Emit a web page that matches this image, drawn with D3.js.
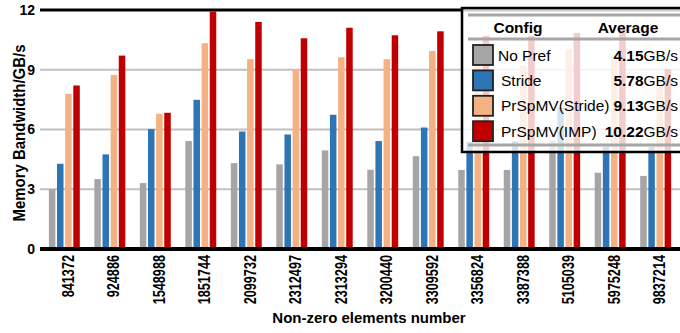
<!DOCTYPE html>
<html>
<head>
<meta charset="utf-8">
<script src="https://cdn.jsdelivr.net/npm/d3@7.9.0/dist/d3.min.js"></script>
<style>
  body { margin: 0; background: #fff; }
  svg { display: block; font-family: "Liberation Sans", Arial, sans-serif; }
</style>
</head>
<body>
<svg id="chart" width="680" height="333"></svg>
<script>
// matrix sizes (non-zero count) on the x axis
const categories = ['841372', '924886', '1548988', '1851744', '2099732', '2312497', '2313294',
  '3200440', '3309592', '3356824', '3387388', '5105039', '5975248', '9837214'];
const configs = ['No Pref', 'Stride', 'PrSpMV(Stride)', 'PrSpMV(IMP)'];
const colors = ['#a5a5a5', '#2e75b6', '#f4b183', '#c00000'];

// bandwidth in GB/s
const noPref = [3.0, 3.51, 3.31, 5.42, 4.31, 4.25, 4.95, 3.98, 4.66, 3.97, 3.97, 5.45, 3.83, 3.67];
const stride = [4.28, 4.75, 6.02, 7.49, 5.90, 5.75, 6.74, 5.42, 6.10, 5.39, 5.40, 7.10, 5.13, 5.13];
const prStride = [7.79, 8.74, 6.79, 10.33, 9.53, 9.03, 9.63, 9.53, 9.94, 9.3, 9.2, 10.05, 9.65, 8.3];
const prImp = [8.21, 9.71, 6.84, 11.92, 11.40, 10.58, 11.11, 10.73, 10.93, 10.7, 10.7, 10.85, 11.05, 9.03];
const averages = ['4.15', '5.78', '9.13', '10.22'];
const yTicks = [0, 3, 6, 9, 12];

const series = [noPref, stride, prStride, prImp];

const svg = d3.select('#chart');
const m = { left: 40, right: 680, top: 10, bottom: 249 };

const x = d3.scaleBand().domain(categories).range([m.left, m.right]).paddingInner(0.32).paddingOuter(0.195);
const xi = d3.scaleBand().domain(configs).range([0, x.bandwidth()]).paddingInner(0.2);
const y = d3.scaleLinear().domain([0, 12]).range([m.bottom, m.top]);

// grid lines
svg.append('g').selectAll('line')
  .data(yTicks.filter(t => t > 0 && t < 12))
  .join('line')
  .attr('x1', m.left).attr('x2', m.right)
  .attr('y1', d => y(d)).attr('y2', d => y(d))
  .attr('stroke', '#c0c0c0').attr('stroke-width', 2);

// bars
const groups = svg.append('g').selectAll('g')
  .data(categories)
  .join('g')
  .attr('transform', d => `translate(${x(d)},0)`);

groups.selectAll('rect')
  .data((d, i) => series.map((s, k) => ({ key: configs[k], value: s[i], k })))
  .join('rect')
  .attr('x', d => xi(d.key))
  .attr('width', xi.bandwidth())
  .attr('y', d => y(d.value))
  .attr('height', d => y(0) - y(d.value))
  .attr('fill', d => colors[d.k]);

// top frame line and bottom axis line
svg.append('line').attr('x1', m.left).attr('x2', m.right).attr('y1', m.top).attr('y2', m.top)
  .attr('stroke', '#000').attr('stroke-width', 3);
svg.append('line').attr('x1', m.left).attr('x2', m.right).attr('y1', m.bottom).attr('y2', m.bottom)
  .attr('stroke', '#000').attr('stroke-width', 4);

// y tick labels
svg.append('g').selectAll('text')
  .data(yTicks)
  .join('text')
  .attr('x', 35).attr('y', d => y(d))
  .attr('dy', '0.35em')
  .attr('text-anchor', 'end')
  .attr('font-size', 14).attr('font-weight', 'bold')
  .text(d => d);

// x tick labels (rotated, condensed)
svg.append('g').selectAll('text')
  .data(categories)
  .join('text')
  .attr('transform', d => `translate(${x(d) + x.bandwidth() / 2 + 4},255) rotate(-90)`)
  .attr('dy', '0.35em')
  .attr('text-anchor', 'end')
  .attr('font-size', 16).attr('font-weight', 'bold')
  .attr('textLength', d => d.length * 7.05)
  .attr('lengthAdjust', 'spacingAndGlyphs')
  .text(d => d);

// axis titles
svg.append('text')
  .attr('transform', 'translate(25,133) rotate(-90)')
  .attr('text-anchor', 'middle')
  .attr('font-size', 16).attr('font-weight', 'bold')
  .attr('textLength', 177)
  .attr('lengthAdjust', 'spacingAndGlyphs')
  .text('Memory Bandwidth/GB/s');

svg.append('text')
  .attr('x', 369).attr('y', 323)
  .attr('text-anchor', 'middle')
  .attr('font-size', 15).attr('font-weight', 'bold')
  .text('Non-zero elements number');

// legend
const lg = svg.append('g');
lg.append('rect')
  .attr('x', 462).attr('y', 8).attr('width', 240).attr('height', 144)
  .attr('fill', '#fff').attr('fill-opacity', 0.8)
  .attr('stroke', '#000').attr('stroke-width', 2.5);

[15, 39, 145].forEach(ly => {
  lg.append('line').attr('x1', 468).attr('x2', 680).attr('y1', ly).attr('y2', ly)
    .attr('stroke', '#a6a6a6').attr('stroke-width', 3);
});

lg.append('text').attr('x', 518).attr('y', 33).attr('text-anchor', 'middle')
  .attr('font-size', 15.5).attr('font-weight', 'bold').text('Config');
lg.append('text').attr('x', 628).attr('y', 33).attr('text-anchor', 'middle')
  .attr('font-size', 15.5).attr('font-weight', 'bold').text('Average');

const rows = lg.selectAll('g.row')
  .data(configs)
  .join('g')
  .attr('class', 'row')
  .attr('transform', (d, i) => `translate(0,${55 + i * 25.4})`);

rows.append('rect')
  .attr('x', 473).attr('y', -10).attr('width', 20).attr('height', 20)
  .attr('fill', (d, i) => colors[i])
  .attr('stroke', '#222').attr('stroke-width', 1.8);

rows.append('text')
  .attr('x', (d, i) => i === 0 ? 498 : 501)
  .attr('dy', '0.36em')
  .attr('font-size', 15.5)
  .text(d => d);

const val = rows.append('text')
  .attr('x', 678)
  .attr('dy', '0.36em')
  .attr('text-anchor', 'end')
  .attr('font-size', 15.5);
val.append('tspan').attr('font-weight', 'bold').text((d, i) => averages[i]);
val.append('tspan').text('GB/s');
</script>
</body>
</html>
